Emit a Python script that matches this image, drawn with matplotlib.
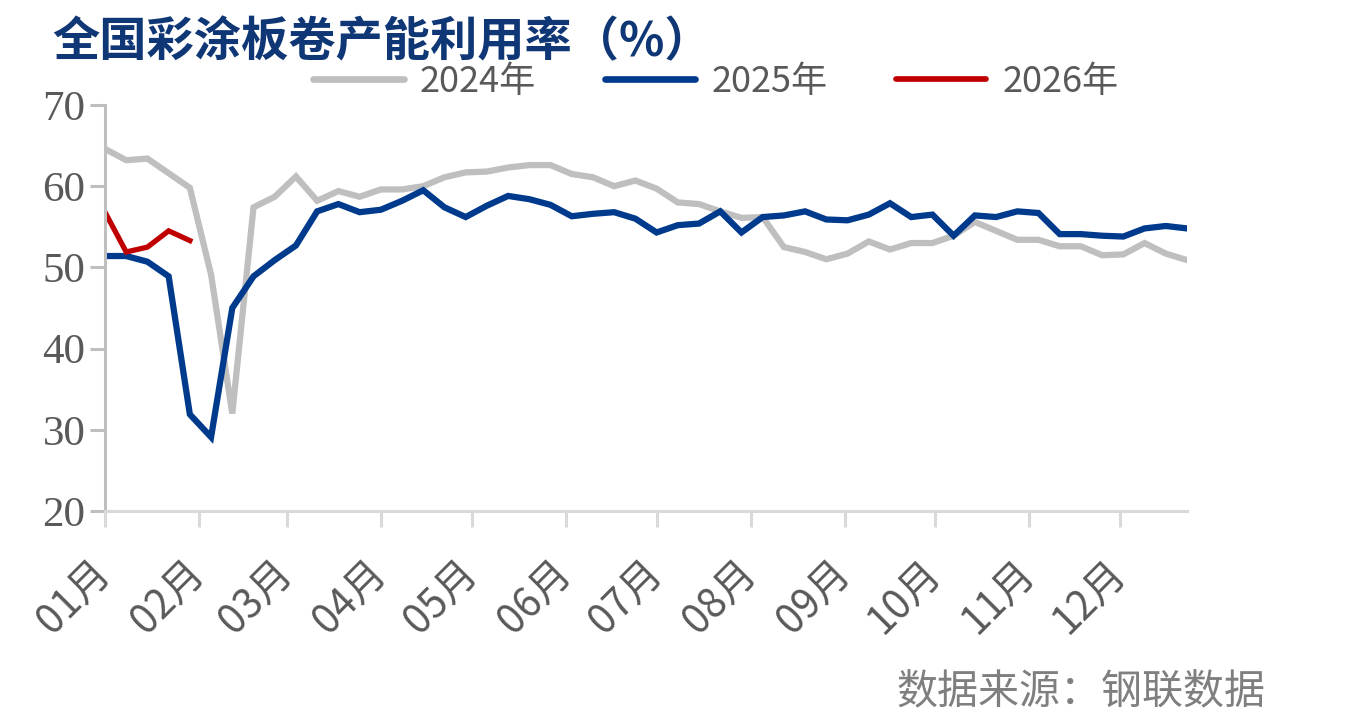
import matplotlib
matplotlib.use("Agg")
import matplotlib.pyplot as plt
from matplotlib.lines import Line2D
import numpy as np

################################################################################
# Data (weekly readings)
months = ["01月", "02月", "03月", "04月", "05月", "06月",
          "07月", "08月", "09月", "10月", "11月", "12月"]
month_start_day = [0, 31, 60, 91, 121, 152, 182, 213, 244, 274, 305, 335]

util_2024 = [64.6, 63.2, 63.4, 61.6, 59.8, 49.1, 32.0, 57.4, 58.7, 61.2,
             58.2, 59.4, 58.7, 59.6, 59.6, 60.0, 61.1, 61.7, 61.8, 62.3,
             62.6, 62.6, 61.5, 61.1, 60.0, 60.7, 59.7, 58.0, 57.8, 56.9,
             56.1, 56.2, 52.5, 51.9, 51.0, 51.7, 53.2, 52.2, 53.0, 53.0,
             53.9, 55.6, 54.5, 53.4, 53.4, 52.6, 52.6, 51.5, 51.6, 53.0,
             51.7, 50.9]
util_2025 = [51.4, 51.4, 50.7, 48.9, 31.9, 29.1, 45.0, 48.9, 50.9, 52.7,
             56.9, 57.8, 56.8, 57.1, 58.2, 59.5, 57.4, 56.2, 57.6, 58.8,
             58.4, 57.7, 56.3, 56.6, 56.8, 56.0, 54.3, 55.2, 55.4, 56.9,
             54.3, 56.2, 56.4, 56.9, 55.9, 55.8, 56.5, 57.9, 56.2, 56.5,
             53.9, 56.4, 56.2, 56.9, 56.7, 54.1, 54.1, 53.9, 53.8, 54.8,
             55.1, 54.8]
util_2026 = [56.8, 51.9, 52.5, 54.5, 53.3]

series = [("2024年", util_2024, "#bfbfbf", 4.5),
          ("2025年", util_2025, "#003a8c", 4.5),
          ("2026年", util_2026, "#c00000", 3.8)]
################################################################################

CJK = ["Noto Sans CJK SC", "DejaVu Sans"]
TEXT_GRAY = "#595959"

fig = plt.figure(figsize=(13.55, 7.26), dpi=100)
ax = fig.add_axes([105 / 1355, (726 - 511) / 726, 1082 / 1355, 406 / 726])

for name, vals, color, lw in series:
    days = np.arange(len(vals)) * 7
    ax.plot(days, vals, color=color, linewidth=lw, solid_joinstyle="miter")

ax.set_xlim(0, 357)
ax.set_ylim(20, 70)
ax.set_yticks(np.arange(20, 71, 10))
ax.set_xticks(month_start_day)

for s in ["top", "right"]:
    ax.spines[s].set_visible(False)
ax.spines["left"].set_color("#bfbfbf")
ax.spines["bottom"].set_color("#d9d9d9")
ax.spines["left"].set_linewidth(2.2)
ax.spines["bottom"].set_linewidth(2.2)

ax.tick_params(axis="y", direction="out", length=11, width=2.2,
               color="#bfbfbf", pad=3, labelcolor=TEXT_GRAY)
ax.tick_params(axis="x", direction="out", length=11.5, width=2.2,
               color="#d9d9d9", pad=29, labelcolor=TEXT_GRAY)

for lab in ax.get_yticklabels():
    lab.set_family("Liberation Serif")
    lab.set_fontsize(31)

ax.set_xticklabels(months, family=CJK, fontsize=29, rotation=45,
                   ha="right", va="center", rotation_mode="anchor")

# legend
handles = [Line2D([0], [0], color=c, linewidth=lw + 0.3, solid_capstyle="round")
           for _, _, c, lw in series]
leg = fig.legend(handles, [n for n, _, _, _ in series], ncol=3,
                 loc="center", bbox_to_anchor=(716 / 1355, 1 - 82 / 726),
                 frameon=False, handlelength=2.5, handletextpad=0.45,
                 columnspacing=1.9, prop={"family": CJK, "size": 26})
for t in leg.get_texts():
    t.set_color(TEXT_GRAY)

# title and source
fig.text(52 / 1355, 1 - 42 / 726, "全国彩涂板卷产能利用率（%）",
         family=CJK, fontsize=34, fontweight="bold", color="#0f3775",
         ha="left", va="center")
fig.text(1265 / 1355, 1 - 693 / 726, "数据来源：钢联数据",
         family=CJK, fontsize=29.5, color="#7f7f7f", ha="right", va="center")

fig.savefig("out.png", dpi=100)
plt.close(fig)
